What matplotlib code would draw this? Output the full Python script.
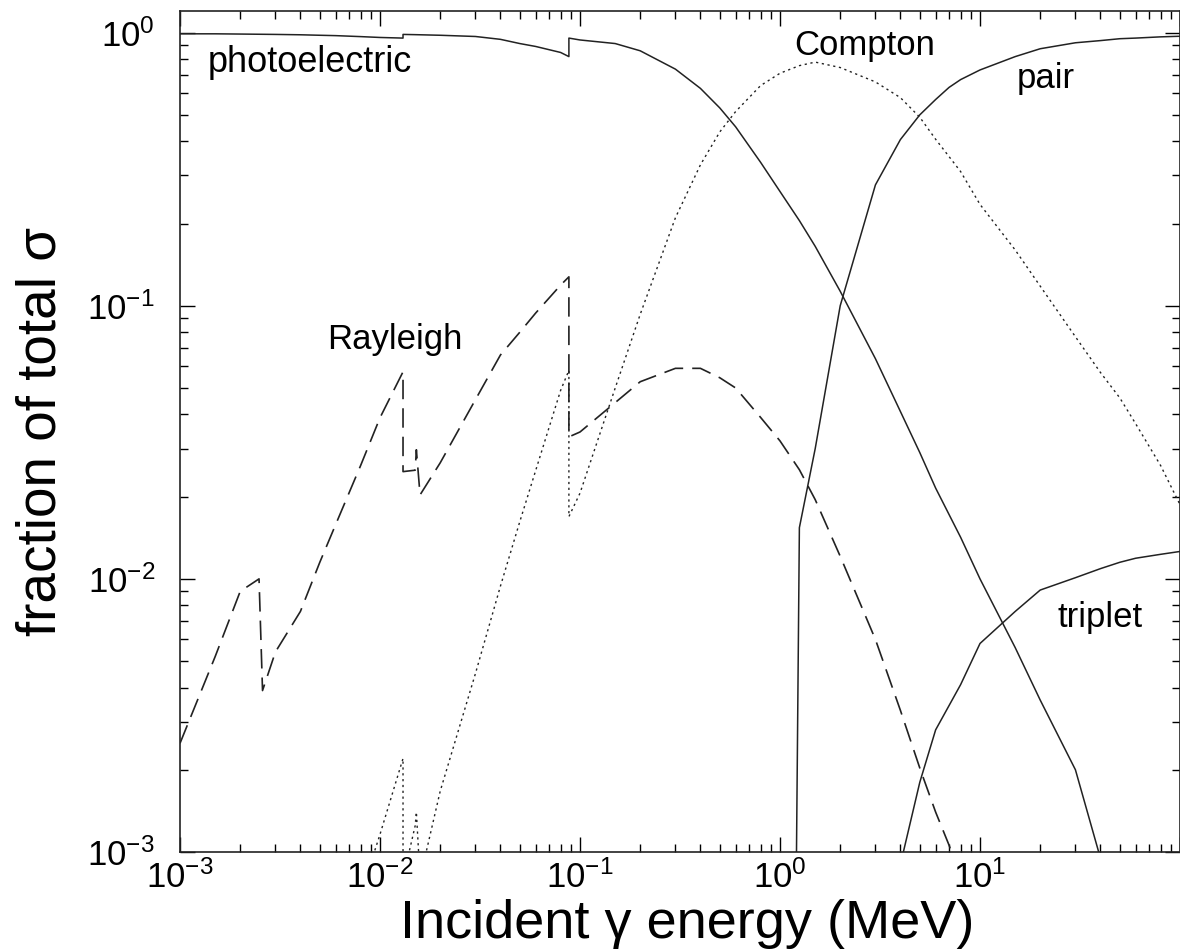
import math
import matplotlib
matplotlib.use('Agg')
import matplotlib.pyplot as plt
from matplotlib.ticker import FuncFormatter

plt.rcParams['font.family'] = ['Liberation Sans', 'DejaVu Sans']
plt.rcParams['mathtext.default'] = 'regular'
plt.rcParams['lines.scale_dashes'] = False

# energies in MeV, values = fraction of total cross section (lead)
pe_E = [0.001, 0.0015, 0.002, 0.003, 0.004, 0.005, 0.006, 0.008, 0.01, 0.013035, 0.013035,
        0.015, 0.02, 0.03, 0.04, 0.05, 0.06, 0.08, 0.088, 0.088, 0.1, 0.15, 0.2, 0.3, 0.4,
        0.5, 0.6, 0.8, 1.0, 1.25, 1.5, 2.0, 3.0, 4.0, 5.0, 6.0, 8.0, 10.0, 15.0, 20.0, 30.0,
        40.0, 50.0, 60.0, 80.0, 100.0]
pe_f = [0.99, 0.99, 0.988, 0.985, 0.982, 0.978, 0.975, 0.967, 0.96, 0.955, 0.985,
        0.983, 0.978, 0.968, 0.945, 0.912, 0.89, 0.846, 0.817, 0.955, 0.94, 0.912, 0.858,
        0.735, 0.625, 0.53, 0.452, 0.335, 0.262, 0.205, 0.165, 0.113, 0.064, 0.041, 0.029,
        0.0215, 0.0142, 0.0100, 0.0056, 0.0036, 0.0020, 0.00095, 0.0007, 0.00055, 0.0004,
        0.0003]

co_E = [0.005, 0.008, 0.01, 0.013035, 0.013035, 0.015, 0.0152, 0.01586, 0.02, 0.03, 0.04,
        0.05, 0.06, 0.08, 0.088, 0.088, 0.1, 0.15, 0.2, 0.3, 0.4, 0.5, 0.6, 0.8, 1.0, 1.25,
        1.5, 2.0, 3.0, 4.0, 5.0, 6.0, 8.0, 10.0, 15.0, 20.0, 30.0, 40.0, 50.0, 60.0, 80.0,
        100.0]
co_f = [0.0002, 0.0007, 0.00116, 0.0022, 0.0008, 0.00125, 0.0014, 0.0008, 0.00167, 0.0045,
        0.0094, 0.0162, 0.0249, 0.049, 0.058, 0.0169, 0.0206, 0.050, 0.093, 0.21, 0.328,
        0.433, 0.514, 0.64, 0.71, 0.757, 0.78, 0.745, 0.66, 0.578, 0.49, 0.407, 0.31, 0.235,
        0.16, 0.118, 0.077, 0.057, 0.046, 0.037, 0.026, 0.0187]

ra_E = [0.001, 0.0015, 0.002, 0.002484, 0.002586, 0.003, 0.004, 0.005, 0.006, 0.008, 0.01,
        0.013035, 0.013035, 0.015, 0.0152, 0.01586, 0.02, 0.03, 0.04, 0.05, 0.06, 0.08,
        0.088, 0.088, 0.1, 0.15, 0.2, 0.3, 0.4, 0.5, 0.6, 0.8, 1.0, 1.25, 1.5, 2.0, 3.0,
        4.0, 5.0, 6.0, 7.0, 8.0]
ra_f = [0.0025, 0.0052, 0.009, 0.0100, 0.0039, 0.0054, 0.0076, 0.0115, 0.0158, 0.026,
        0.0389, 0.0573, 0.0247, 0.025, 0.0297, 0.0203, 0.0266, 0.0453, 0.066, 0.080, 0.094,
        0.119, 0.1276, 0.0331, 0.0345, 0.0442, 0.0527, 0.059, 0.059, 0.0545, 0.050, 0.039,
        0.032, 0.0251, 0.0195, 0.0121, 0.006, 0.0033, 0.00203, 0.0014, 0.00106, 0.0008]

pr_E = [1.022, 1.25, 1.5, 2.0, 3.0, 4.0, 5.0, 6.0, 7.0, 8.0, 10.0, 15.0, 20.0, 30.0, 40.0,
        50.0, 60.0, 80.0, 100.0]
pr_f = [1e-9, 0.0154, 0.030, 0.10, 0.277, 0.406, 0.50, 0.569, 0.63, 0.673, 0.73, 0.817,
        0.873, 0.918, 0.935, 0.95, 0.955, 0.965, 0.97]

tr_E = [4.0, 5.0, 6.0, 8.0, 10.0, 15.0, 20.0, 30.0, 40.0, 50.0, 60.0, 80.0, 100.0]
tr_f = [0.0009, 0.0018, 0.0028, 0.0041, 0.0058, 0.0076, 0.0091, 0.0101, 0.0109, 0.0115,
        0.0119, 0.0123, 0.0126]


def decade_label(v, pos):
    # the reference leaves the 10^2 corner unlabelled
    if v > 50:
        return ''
    return '$10^{%d}$' % int(round(math.log10(v)))


fig = plt.figure(figsize=(11.8, 9.5), dpi=100)
ax = fig.add_axes([180 / 1180, 1 - 852 / 950, 1000 / 1180, 841 / 950])

col = '#222222'
ax.plot(pe_E, pe_f, color=col, lw=1.1)
ax.plot(pr_E, pr_f, color=col, lw=1.1)
ax.plot(tr_E, tr_f, color=col, lw=1.1)
ax.plot(co_E, co_f, color=col, lw=1.0, dashes=(1.6, 2.6))
ax.plot(ra_E, ra_f, color=col, lw=1.2, dashes=(14, 6.5))

ax.set_xscale('log')
ax.set_yscale('log')
ax.set_xlim(1e-3, 1e2)
ax.set_ylim(1e-3, 1.2)
ax.xaxis.set_major_formatter(FuncFormatter(decade_label))
ax.yaxis.set_major_formatter(FuncFormatter(decade_label))

ax.text(0.00137, 0.78, 'photoelectric', fontsize=26, ha='left', va='center')
ax.text(2.66, 0.90, 'Compton', fontsize=25, ha='center', va='center')
ax.text(21.4, 0.68, 'pair', fontsize=25, ha='center', va='center')
ax.text(0.0119, 0.075, 'Rayleigh', fontsize=25, ha='center', va='center')
ax.text(39.8, 0.0072, 'triplet', fontsize=25, ha='center', va='center')

ax.set_xlabel('Incident \u03b3 energy (MeV)', fontsize=39)
ax.set_ylabel('fraction of total \u03c3', fontsize=39.5)
ax.xaxis.set_label_coords(0.507, -0.056)
ax.yaxis.set_label_coords(-0.112, 0.5)

ax.tick_params(which='both', direction='in', top=True, right=True, labelsize=25, width=1.0)
ax.tick_params(which='major', length=11)
ax.tick_params(which='minor', length=6)
ax.tick_params(axis='x', which='major', pad=6)
ax.tick_params(axis='y', which='major', pad=18)
for s in ax.spines.values():
    s.set_linewidth(1.2)
    s.set_color(col)

fig.savefig('out.png', dpi=100)
